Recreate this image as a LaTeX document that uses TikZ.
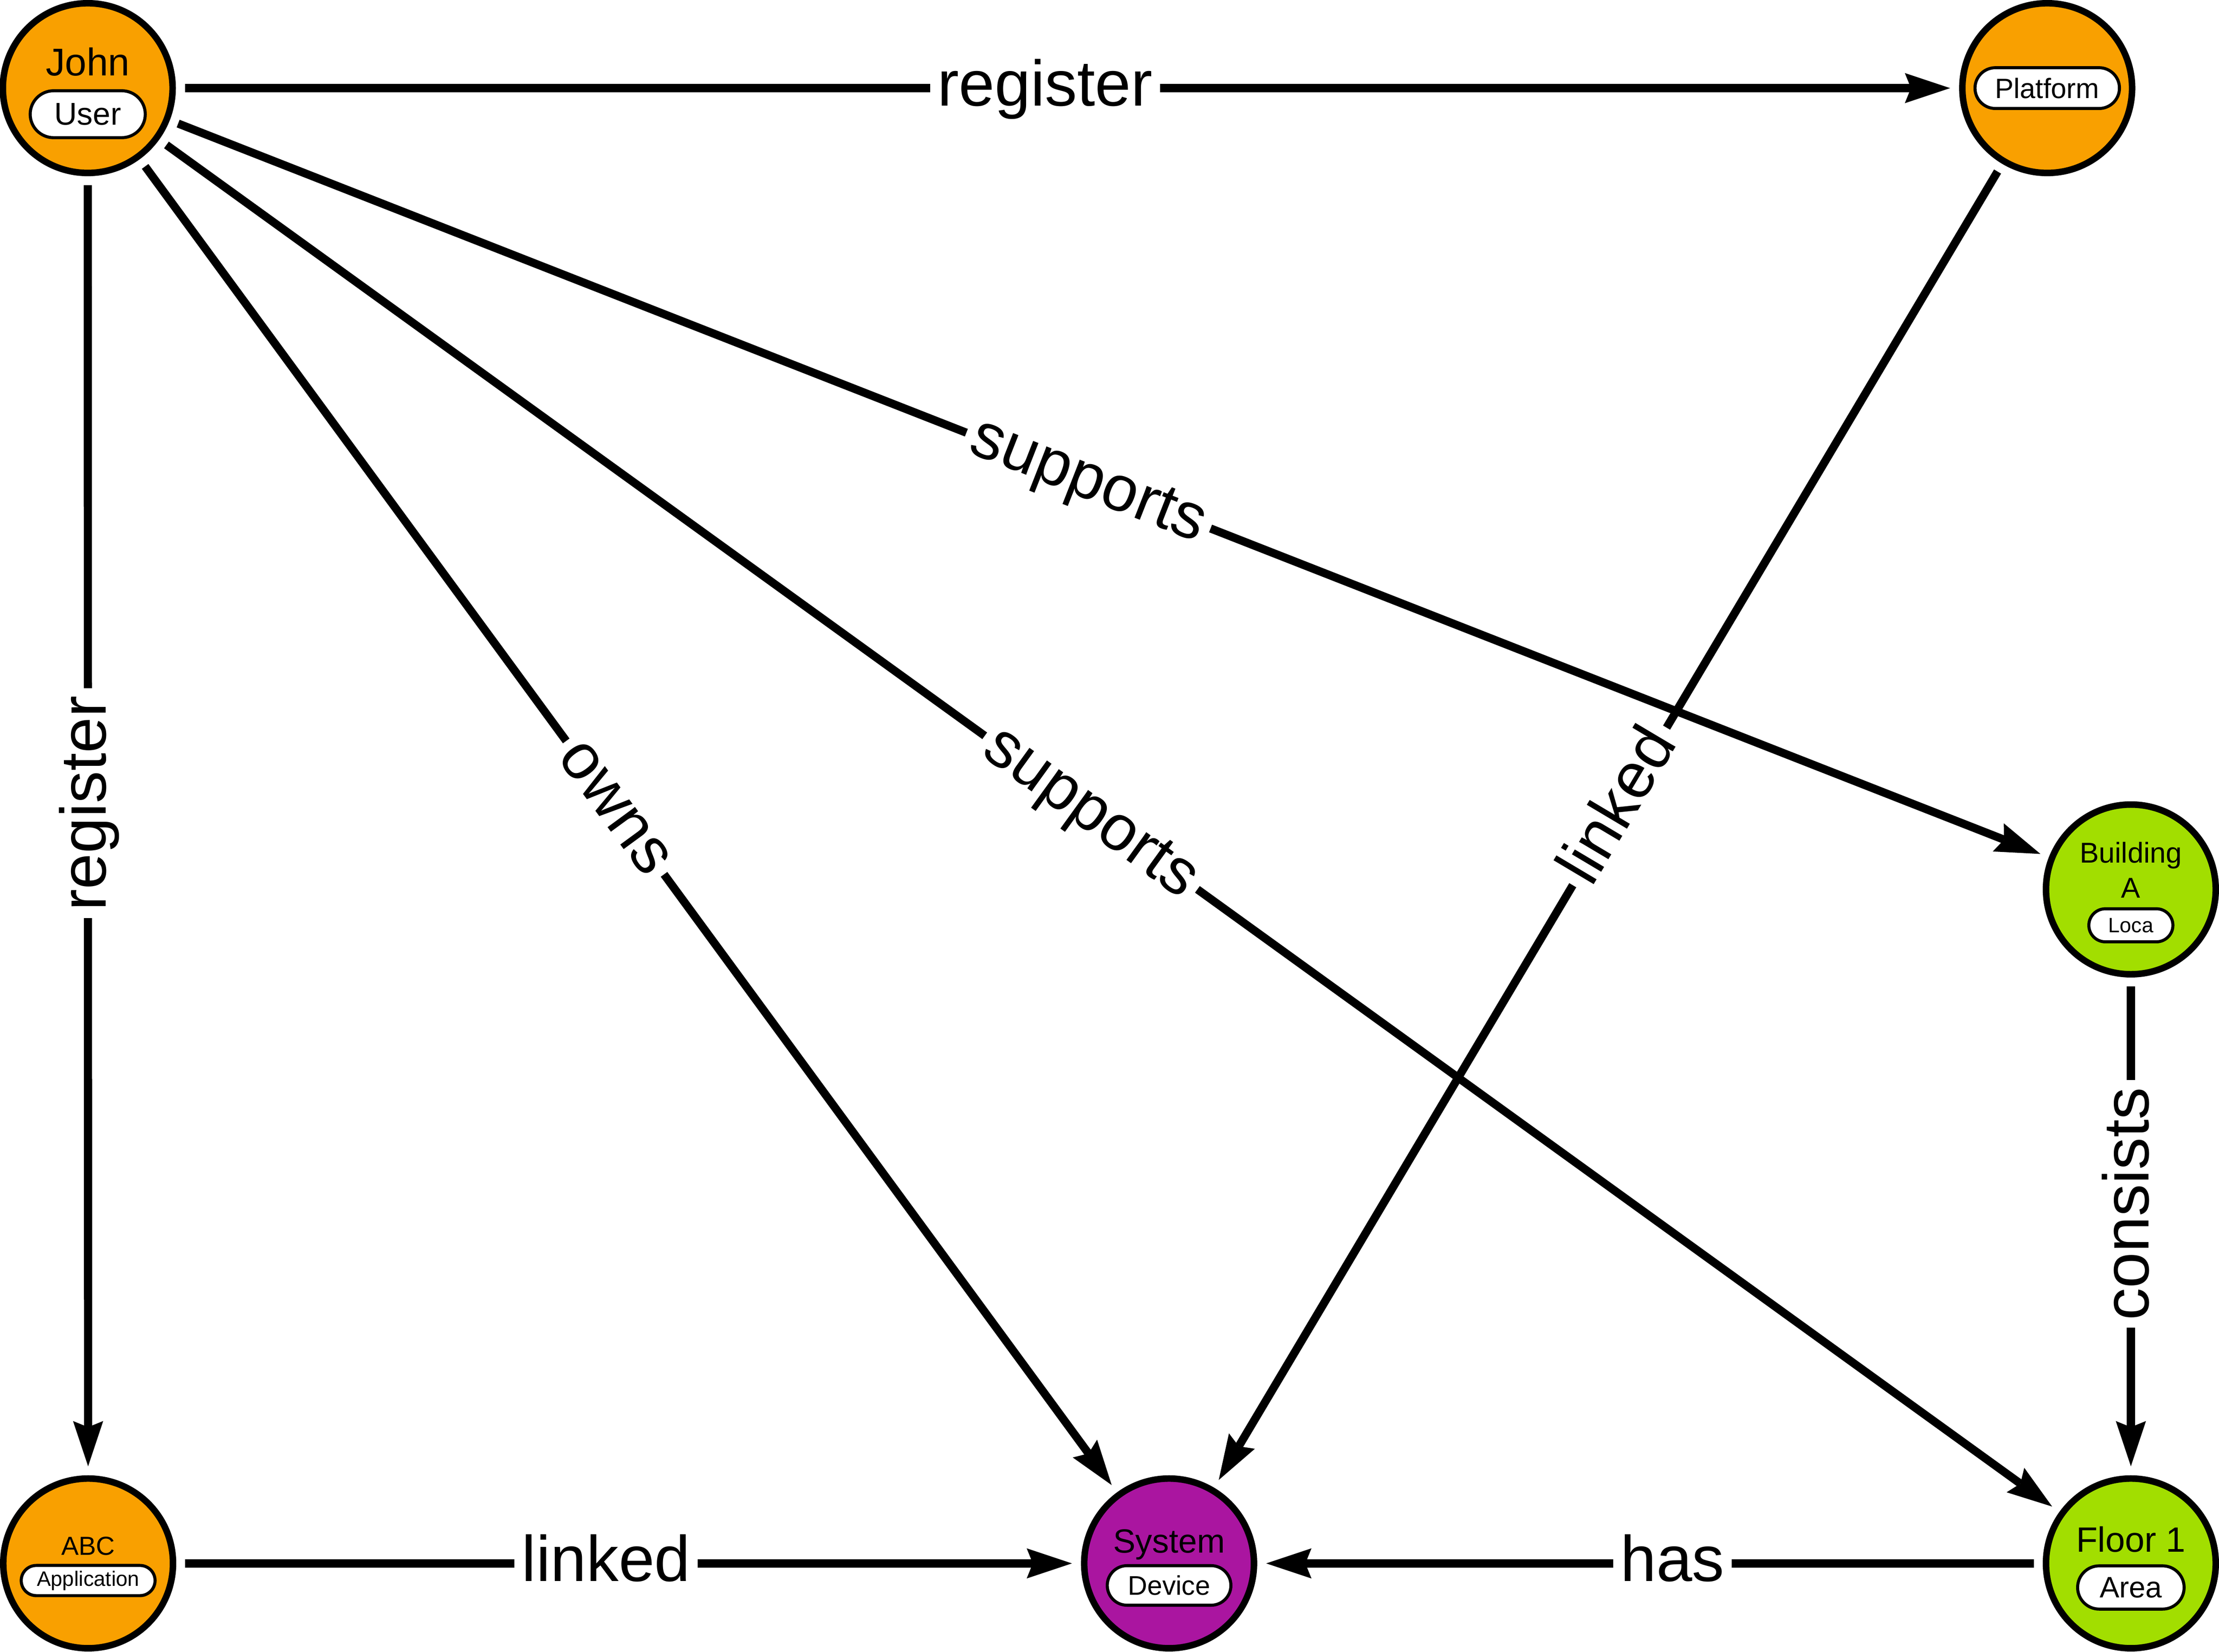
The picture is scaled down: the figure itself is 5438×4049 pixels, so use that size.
\documentclass[tikz,border=0pt]{standalone}
\usepackage{fontspec}
\setmainfont{Liberation Sans}
\usetikzlibrary{arrows.meta,shapes.misc}
\definecolor{nodeorange}{RGB}{249,160,0}
\definecolor{nodegreen}{RGB}{162,222,0}
\definecolor{nodepurple}{RGB}{170,21,160}
\begin{document}
\begin{tikzpicture}[x=0.1mm,y=0.1mm,
  entity/.style={circle, draw=black, line width=1.6mm, minimum size=41.6mm, inner sep=0pt},
  pill/.style={rounded rectangle, draw=black, fill=white, line width=0.75mm, inner sep=0pt},
  title/.style={anchor=base, inner sep=0pt},
  edge/.style={line width=2mm, -{Stealth[length=11.1mm,width=7.4mm,inset=1.5mm,line width=0pt]}, shorten >=2.2mm, shorten <=2.2mm},
  lbl/.style={fill=white, inner xsep=1.8mm, inner ysep=1mm, text height=11.9mm, text depth=3.2mm, font=\fontsize{45pt}{54pt}\selectfont}
]
\useasboundingbox (0,0) rectangle (5438,4049);

% John
\node[entity, fill=nodeorange] (john) at (215,3833) {};
\node[title, font=\fontsize{27pt}{32pt}\selectfont] (johnT) at (215,3863) {John};
\node[pill, minimum width=28.2mm, minimum height=11.5mm, font=\fontsize{22pt}{26pt}\selectfont] (johnP) at (215,3769) {User};

% Platform
\node[entity, fill=nodeorange] (platform) at (5017,3833) {};
\node[pill, minimum width=35.4mm, minimum height=10mm, font=\fontsize{19.5pt}{23pt}\selectfont] (platformP) at (5017,3833) {Platform};

% Building A
\node[entity, fill=nodegreen] (building) at (5222,1869) {};
\node[title, font=\fontsize{20pt}{24pt}\selectfont] (buildingT1) at (5222,1934) {Building};
\node[title, font=\fontsize{20pt}{24pt}\selectfont] (buildingT2) at (5222,1848) {A};
\node[pill, minimum width=20.6mm, minimum height=8.1mm, font=\fontsize{14.5pt}{17pt}\selectfont] (buildingP) at (5222,1781) {Loca};

% ABC
\node[entity, fill=nodeorange] (abc) at (216,217) {};
\node[title, font=\fontsize{18.2pt}{22pt}\selectfont] (abcT) at (216,237) {ABC};
\node[pill, minimum width=32.8mm, minimum height=7.4mm, font=\fontsize{14.6pt}{17pt}\selectfont] (abcP) at (216,175) {Application};

% System
\node[entity, fill=nodepurple] (system) at (2865,217) {};
\node[title, font=\fontsize{23.4pt}{28pt}\selectfont] (systemT) at (2865,243) {System};
\node[pill, minimum width=30.3mm, minimum height=9.7mm, font=\fontsize{18.8pt}{22pt}\selectfont] (systemP) at (2865,163) {Device};

% Floor 1
\node[entity, fill=nodegreen] (floor) at (5222,217) {};
\node[title, font=\fontsize{24.5pt}{29pt}\selectfont] (floorT) at (5222,245) {Floor 1};
\node[pill, minimum width=26.1mm, minimum height=10.6mm, font=\fontsize{20.6pt}{24pt}\selectfont] (floorP) at (5222,158) {Area};

% Edges
\draw[edge] (john) -- node[lbl, pos=0.4874] {register} (platform);
\draw[edge] (john) -- node[lbl, pos=0.4827, rotate=90] {register} (abc);
\draw[edge] (john) -- node[lbl, pos=0.4864, sloped] {owns} (system);
\draw[edge] (john) -- node[lbl, pos=0.4889, sloped] {supports} (building);
\draw[edge] (john) -- node[lbl, pos=0.4904, sloped] {supports} (floor);
\draw[edge] (platform) -- node[lbl, pos=0.4854, sloped] {linked} (system);
\draw[edge] (building) -- node[lbl, pos=0.4549, rotate=90] {consists} (floor);
\draw[edge] (abc) -- node[lbl, pos=0.4752] {linked} (system);
\draw[edge] (floor) -- node[lbl, pos=0.4714] {has} (system);
\end{tikzpicture}
\end{document}
